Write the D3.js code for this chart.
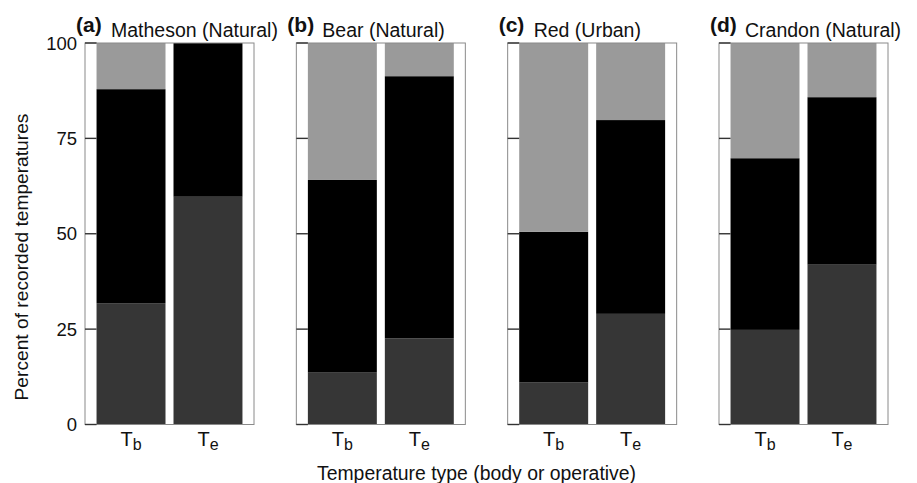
<!DOCTYPE html>
<html>
<head>
<meta charset="utf-8">
<script src="https://cdn.jsdelivr.net/npm/d3@7"></script>
<style>
  html, body { margin: 0; padding: 0; background: #fff; }
  svg { display: block; font-family: "Liberation Sans", Arial, Helvetica, sans-serif; }
</style>
</head>
<body>
<svg id="chart" width="917" height="483"></svg>
<script>
// ---- data ----
const panelLetters = ["(a)", "(b)", "(c)", "(d)"];
const panelTitles = ["Matheson (Natural)", "Bear (Natural)", "Red (Urban)", "Crandon (Natural)"];
const tempTypes = ["b", "e"];            // T_b (body), T_e (operative)
const seriesNames = ["lower", "middle", "upper"];
// percent of recorded temperatures, per panel: [Tb, Te]
const lowerVals  = [[31.8, 59.7], [13.6, 22.6], [11.0, 29.0], [24.8, 41.9]];
const middleVals = [[56.1, 40.3], [50.5, 68.7], [39.5, 50.8], [45.0, 43.9]];
const upperVals  = [[12.1, 0.0],  [35.9, 8.7],  [49.5, 20.2], [30.2, 14.2]];
const yTicks = [0, 25, 50, 75, 100];
const yTitle = "Percent of recorded temperatures";
const xTitle = "Temperature type (body or operative)";

// ---- layout ----
const svg = d3.select("#chart");
const colors = d3.scaleOrdinal().domain(seriesNames).range(["#363636", "#000000", "#9a9a9a"]);

const panelX = d3.scaleBand().domain(d3.range(panelLetters.length)).range([85, 888]).paddingInner(0.2003).paddingOuter(0);
const y = d3.scaleLinear().domain([0, 100]).range([424.5, 43]);
const innerX = d3.scaleBand().domain(tempTypes).range([0, panelX.bandwidth()]).paddingInner(0.104).paddingOuter(0.15);

const allSeries = [lowerVals, middleVals, upperVals];

panelLetters.forEach((letter, i) => {
  const g = svg.append("g").attr("transform", `translate(${panelX(i)},0)`);
  const w = panelX.bandwidth();

  const rows = tempTypes.map((t, j) => {
    const r = { type: t };
    seriesNames.forEach((s, k) => { r[s] = allSeries[k][i][j]; });
    return r;
  });
  const stacked = d3.stack().keys(seriesNames)(rows);

  g.selectAll("g.layer").data(stacked).join("g")
    .attr("class", "layer")
    .attr("fill", d => colors(d.key))
    .selectAll("rect").data(d => d).join("rect")
    .attr("x", d => innerX(d.data.type))
    .attr("width", innerX.bandwidth())
    .attr("y", d => y(Math.min(100, d[1])))
    .attr("height", d => Math.max(0, y(d[0]) - y(Math.min(100, d[1]))));

  // frame
  g.append("rect")
    .attr("x", 0).attr("y", y(100))
    .attr("width", w).attr("height", y(0) - y(100))
    .attr("fill", "none").attr("stroke", "#8a8a8a").attr("stroke-width", 1);

  // tick marks
  const tickLen = innerX(tempTypes[0]);
  g.selectAll("line.tick").data(yTicks).join("line")
    .attr("class", "tick")
    .attr("x1", 0).attr("x2", tickLen)
    .attr("y1", d => y(d)).attr("y2", d => y(d))
    .attr("stroke", "#333").attr("stroke-width", 1.4);

  // x tick labels T_b / T_e
  tempTypes.forEach(t => {
    const tx = g.append("text")
      .attr("x", innerX(t) + innerX.bandwidth() / 2)
      .attr("y", 446)
      .attr("text-anchor", "middle")
      .attr("font-size", 20)
      .attr("fill", "#111");
    tx.append("tspan").text("T");
    tx.append("tspan").attr("dy", 4).attr("font-size", 16).text(t);
  });

  // titles
  g.append("text")
    .attr("x", -9).attr("y", 32)
    .attr("font-size", 21).attr("font-weight", "bold").attr("fill", "#111")
    .text(letter);
  g.append("text")
    .attr("x", 26).attr("y", 37)
    .attr("font-size", 19.5).attr("fill", "#111")
    .text(panelTitles[i]);

  if (i === 0) {
    g.selectAll("text.ylab").data(yTicks).join("text")
      .attr("class", "ylab")
      .attr("x", -8).attr("y", d => y(d))
      .attr("dy", "0.36em")
      .attr("text-anchor", "end")
      .attr("font-size", 18.5).attr("fill", "#111")
      .text(d => d);
  }
});

// axis titles
svg.append("text")
  .attr("transform", `translate(28,257) rotate(-90)`)
  .attr("text-anchor", "middle")
  .attr("font-size", 19.2).attr("fill", "#111")
  .text(yTitle);

svg.append("text")
  .attr("x", 476.5).attr("y", 480)
  .attr("text-anchor", "middle")
  .attr("font-size", 19.4).attr("fill", "#111")
  .text(xTitle);
</script>
</body>
</html>
